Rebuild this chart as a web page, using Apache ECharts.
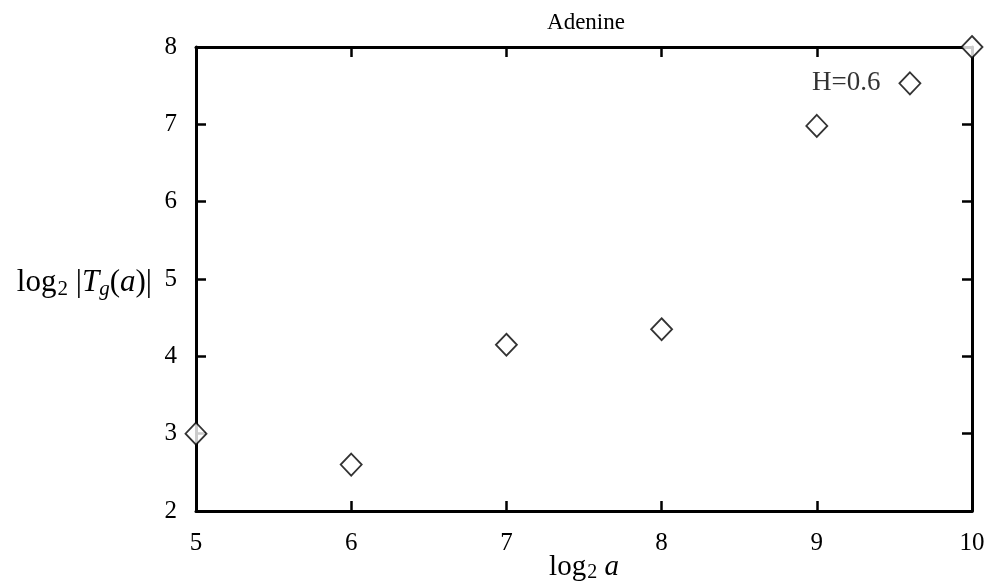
<!DOCTYPE html>
<html>
<head>
<meta charset="utf-8">
<script src="https://cdn.jsdelivr.net/npm/echarts@6/dist/echarts.min.js"></script>
<style>
  html, body { margin: 0; padding: 0; background: #fff; }
  #chart { width: 997px; height: 585px; }
</style>
</head>
<body>
<div id="chart"></div>
<script>
// log2 of scale a versus log2 |T_g(a)| for the adenine sequence
const scaleLog2 = [5, 6, 7, 8, 9, 9.6, 10];
const tgLog2 = [3.0, 2.6, 4.15, 4.35, 6.98, 7.53, 8.0];
const xTicks = [5, 6, 7, 8, 9, 10];
const yTicks = [2, 3, 4, 5, 6, 7, 8];
const chartTitle = 'Adenine';
const noteText = 'H=0.6';
const noteIndex = 5;

const serif = '"Liberation Serif", "DejaVu Serif", serif';
const frame = { show: true, lineStyle: { color: '#000', width: 3 } };
const inTicks = { show: true, inside: true, length: 10, lineStyle: { color: '#000', width: 2.5 } };

const chart = echarts.init(document.getElementById('chart'));
chart.setOption({
  backgroundColor: '#fff',
  animation: false,
  title: {
    text: chartTitle,
    left: 581, top: 6, textAlign: 'center',
    textStyle: { fontFamily: serif, fontSize: 23, fontWeight: 'normal', color: '#000' }
  },
  grid: { left: 196, right: 25, top: 47, bottom: 74, containLabel: false, outerBoundsMode: 'none' },
  xAxis: [{
    type: 'value', position: 'bottom',
    min: xTicks[0], max: xTicks[xTicks.length - 1], interval: 1,
    axisLine: frame, axisTick: inTicks, splitLine: { show: false },
    axisLabel: { margin: 20, fontFamily: serif, fontSize: 25, color: '#000' },
    name: '{r|log}{s|2}{i| a}',
    nameLocation: 'middle', nameGap: 40, nameMoveOverlap: false,
    nameTextStyle: {
      fontFamily: serif, color: '#000',
      rich: {
        r: { fontFamily: serif, fontSize: 29, color: '#000' },
        s: { fontFamily: serif, fontSize: 20, color: '#000', verticalAlign: 'bottom', padding: [12, 0, 0, 1] },
        i: { fontFamily: serif, fontSize: 29, fontStyle: 'italic', color: '#000' }
      }
    }
  }, {
    type: 'value', position: 'top',
    min: xTicks[0], max: xTicks[xTicks.length - 1], interval: 1,
    axisLine: frame, axisTick: inTicks, splitLine: { show: false },
    axisLabel: { show: false }
  }],
  yAxis: [{
    type: 'value', position: 'left',
    min: yTicks[0], max: yTicks[yTicks.length - 1], interval: 1,
    axisLine: frame, axisTick: inTicks, splitLine: { show: false },
    axisLabel: { margin: 19, fontFamily: serif, fontSize: 25, color: '#000' },
    name: '{r|log}{s|2}{r| |}{i|T}{t|g}{r|(}{i|a}{r|)|}',
    nameLocation: 'middle', nameRotate: 0, nameGap: 44, nameMoveOverlap: false,
    nameTextStyle: {
      fontFamily: serif, color: '#000', align: 'right', padding: [8, 0, 0, 0],
      rich: {
        r: { fontFamily: serif, fontSize: 31, color: '#000' },
        s: { fontFamily: serif, fontSize: 21, color: '#000', verticalAlign: 'bottom', padding: [12, 0, 0, 1] },
        i: { fontFamily: serif, fontSize: 31, fontStyle: 'italic', color: '#000' },
        t: { fontFamily: serif, fontSize: 21, fontStyle: 'italic', color: '#000', verticalAlign: 'bottom', padding: [12, 0, 0, 0] }
      }
    }
  }, {
    type: 'value', position: 'right',
    min: yTicks[0], max: yTicks[yTicks.length - 1], interval: 1,
    axisLine: frame, axisTick: inTicks, splitLine: { show: false },
    axisLabel: { show: false }
  }],
  series: [{
    type: 'scatter',
    clip: false,
    symbol: 'diamond',
    symbolSize: [21, 22],
    itemStyle: { color: '#fff', borderColor: '#000', borderWidth: 1.8 },
    label: {
      show: true, position: 'left', distance: 18,
      fontFamily: serif, fontSize: 27, color: '#000',
      formatter: p => (p.dataIndex === noteIndex ? noteText : '')
    },
    data: scaleLog2.map((x, i) => [x, tgLog2[i]])
  }]
});
</script>
</body>
</html>
